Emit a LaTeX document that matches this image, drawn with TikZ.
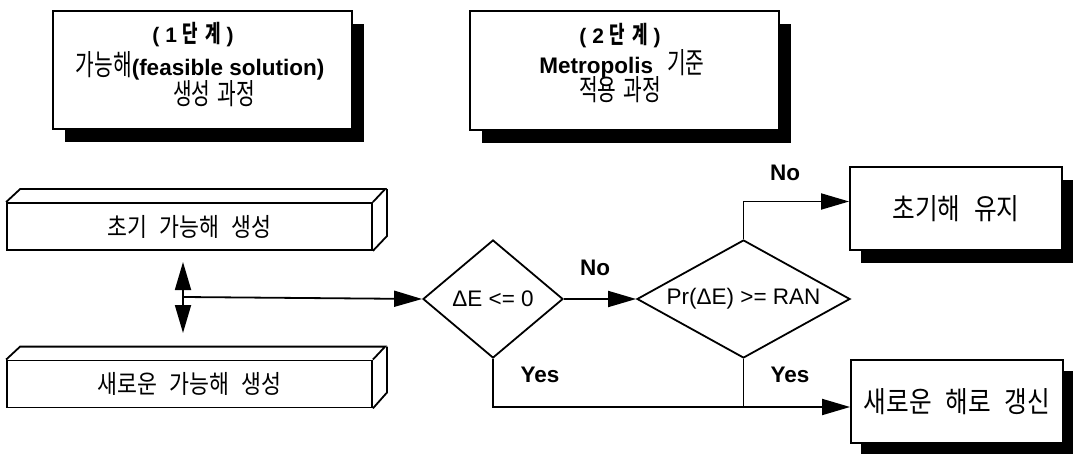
\documentclass[tikz,border=0pt]{standalone}
\usepackage{fontspec}
\setmainfont{Liberation Sans}
% narrow hangul for the stage headers, wider hangul for the process boxes
\newfontfamily\kr[FakeStretch=0.7,WordSpace=1.5]{Noto Sans CJK KR}
\newfontfamily\krw[FakeStretch=0.85,WordSpace=2.5]{Noto Sans CJK KR}
\usetikzlibrary{shapes.geometric,arrows.meta,shadows}

\begin{document}
\begin{tikzpicture}[x=1pt,y=-1pt,line width=1.8pt,
  arr/.style={-{Triangle[length=28pt,width=16pt]}},
  darr/.style={{Triangle[length=28pt,width=16pt]}-{Triangle[length=28pt,width=16pt]}},
  panel/.style={draw,fill=white,inner sep=0pt,line width=1.8pt},
  shade/.style={drop shadow={shadow xshift=#1,shadow yshift=-13pt,fill=black,opacity=1}},
  slab/.style={draw,fill=white,inner sep=0pt,minimum width=365pt,minimum height=47pt,
    font=\krw\fontsize{25.5}{28}\selectfont},
  test/.style={diamond,draw,fill=white,inner sep=0pt,font=\fontsize{22.5}{26}\selectfont},
  ttl/.style={inner sep=0pt,anchor=center},
  lab/.style={font=\bfseries\fontsize{22.5}{26}\selectfont,inner sep=0pt},
  big/.style={font=\krw\fontsize{29}{34}\selectfont}
]
\useasboundingbox (0,0) rectangle (1073,454);

% stage headers
\node[panel,shade=12pt,minimum width=299pt,minimum height=118pt] (s1) at (202.5,70) {};
\node[panel,shade=12pt,minimum width=309pt,minimum height=119pt] (s2) at (624.5,70.5) {};

\node[ttl,font=\bfseries\fontsize{21}{24}\selectfont] (s1a) at (193,35)
  {( 1 {\kr\bfseries\fontsize{24}{26}\selectfont 단}\hspace{7pt}{\kr\bfseries\fontsize{24}{26}\selectfont 계} )};
\node[ttl] (s1b) at (200,66)
  {{\kr\fontsize{29}{30}\selectfont 가능해}\textbf{\fontsize{22.5}{26}\selectfont (feasible solution)}};
\node[ttl,font=\kr\fontsize{29}{30}\selectfont] (s1c) at (214,94) {생성 과정};

\node[ttl,font=\bfseries\fontsize{21}{24}\selectfont] (s2a) at (620,36)
  {( 2 {\kr\bfseries\fontsize{24}{26}\selectfont 단}\hspace{7pt}{\kr\bfseries\fontsize{24}{26}\selectfont 계} )};
\node[ttl] (s2b) at (622,64)
  {\textbf{\fontsize{22.5}{26}\selectfont Metropolis}\hspace{14pt}{\kr\fontsize{29}{30}\selectfont 기준}};
\node[ttl,font=\kr\fontsize{29}{30}\selectfont] (s2c) at (620,90) {적용 과정};

% stage 1 slabs
\node[slab] (init) at (189.5,226.5) {초기 가능해 생성};
\draw (init.north west) -- ++(14,-13) -- ++(365,0) -- (init.north east);
\draw (init.north east) ++(14,-13) -- ++(0,47) -- (init.south east);

\node[slab] (new) at (189.5,384) {새로운 가능해 생성};
\draw (new.north west) -- ++(14,-13) -- ++(365,0) -- (new.north east);
\draw (new.north east) ++(14,-13) -- ++(0,46) -- (new.south east);

\coordinate (ja) at (183,262);
\coordinate (jb) at (183,333);
\coordinate (j) at (183,297);
\draw[darr] (ja) -- (jb);

% decisions
\node[test,aspect=1.19,minimum width=140pt,minimum height=118pt] (d1) at (493,299) {ΔE <= 0};
\node[test,aspect=1.8,minimum width=213pt,minimum height=118pt] (d2) at (743.5,299) {Pr(ΔE) >= RAN};

% outcomes
\node[panel,big,shade=11pt,minimum width=212pt,minimum height=83pt] (keep) at (956,208.5) {초기해 유지};
\node[panel,big,drop shadow={shadow xshift=10pt,shadow yshift=-11pt,fill=black,opacity=1},
  minimum width=212pt,minimum height=83pt] (upd) at (957,401.5) {새로운 해로 갱신};

% connectors
\draw[arr] (j) -- (d1.west);
\draw[arr] (d1.east) -- (d2.west);
\draw[arr] (d2.north) |- ([yshift=7pt]keep.west);
\draw[arr] (d1.south) |- ([yshift=-5.5pt]upd.west);
\coordinate (m) at (d2.south |- 0,407);
\draw (d2.south) -- (m);

\node[lab] (no1) at (595,268) {No};
\node[lab] (yes1) at (540,375) {Yes};
\node[lab] (yes2) at (790,375) {Yes};
\node[lab] (no2) at (785,173) {No};
\end{tikzpicture}
\end{document}
